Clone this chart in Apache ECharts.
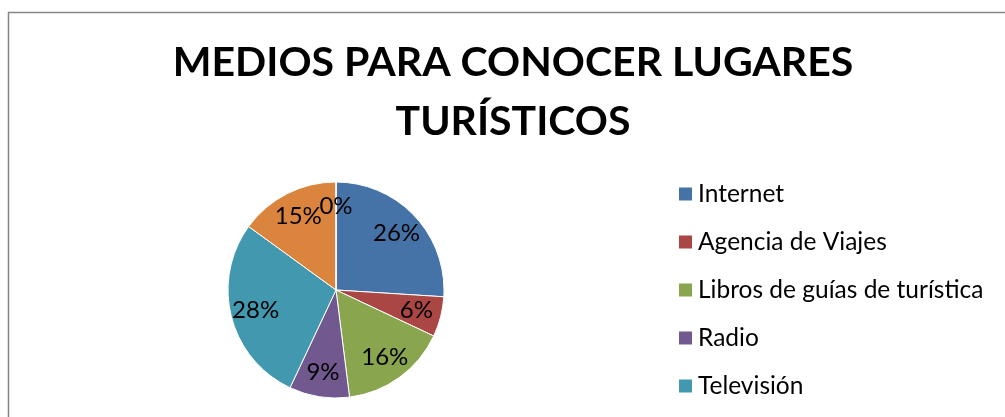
<!DOCTYPE html>
<html>
<head>
<meta charset="utf-8">
<script src="https://cdn.jsdelivr.net/npm/echarts@6/dist/echarts.min.js"></script>
<style>
  html, body { margin: 0; padding: 0; background: #fff; }
  #chart { width: 1005px; height: 417px; }
</style>
</head>
<body>
<div id="chart"></div>
<script>
const titleLines = ['MEDIOS PARA CONOCER LUGARES', 'TURÍSTICOS']
const categories = ['Internet', 'Agencia de Viajes', 'Libros de guías de turística', 'Radio', 'Televisión', 'Periódicos', 'Otros']
const percents = [26, 6, 16, 9, 28, 15, 0]
const colors = ['#4572A7', '#AA4643', '#89A54E', '#71588F', '#4198AF', '#DB843D', '#93A9CF']
// only the first five legend entries fit inside the cropped frame
const legendNames = categories.slice(0, 5)

const FONT = 'Lato, "Open Sans", sans-serif'
const PIE_CENTER = [336, 290]
const PIE_R = 108
const LABEL_R0 = 52
const pieData = categories.map((name, i) => ({ name, value: percents[i] }))
const pctText = p => Math.round(p) + '%'

const frame = {
  id: 'frame',
  type: 'rect',
  shape: { x: 8.5, y: 12.5, width: 1100, height: 500 },
  style: { fill: 'none', stroke: '#868686', lineWidth: 1.5 },
  silent: true
}

const chart = echarts.init(document.getElementById('chart'))
chart.setOption({
  animation: false,
  color: colors,
  title: {
    text: titleLines.join('\n'),
    left: 513,
    textAlign: 'center',
    top: 33,
    padding: 0,
    textStyle: { fontFamily: FONT, fontSize: 41, fontWeight: 'bold', color: '#000', lineHeight: 59 }
  },
  legend: {
    orient: 'vertical',
    left: 677,
    top: 179,
    padding: 0,
    icon: 'rect',
    itemWidth: 15,
    itemHeight: 15,
    itemGap: 18,
    itemTextGap: 6,
    data: legendNames,
    selectedMode: false,
    textStyle: { fontFamily: FONT, fontSize: 24.5, color: '#000', lineHeight: 30 }
  },
  graphic: [frame],
  series: [
    {
      type: 'pie',
      center: PIE_CENTER,
      radius: [0, PIE_R],
      startAngle: 90,
      clockwise: true,
      data: pieData,
      label: { show: false },
      labelLine: { show: false },
      itemStyle: { borderColor: '#fff', borderWidth: 1 },
      emphasis: { disabled: true }
    },
    {
      // label ring so the percentages sit out toward the rim, like the original
      type: 'pie',
      center: PIE_CENTER,
      radius: [LABEL_R0, PIE_R],
      startAngle: 90,
      clockwise: true,
      silent: true,
      data: pieData,
      itemStyle: { color: 'rgba(0,0,0,0)' },
      label: {
        show: true,
        position: 'inside',
        formatter: p => pctText(p.percent),
        fontFamily: FONT,
        fontSize: 24,
        color: '#000'
      },
      labelLine: { show: false },
      emphasis: { disabled: true }
    }
  ]
})

// echarts drops labels of zero-size slices; put them back where the slice sits
const total = percents.reduce((s, v) => s + v, 0)
const zeroLabels = []
let before = 0
percents.forEach((v, i) => {
  if (v === 0) {
    let a = -Math.PI / 2 + (before / total) * Math.PI * 2
    try {
      const lay = chart.getModel().getSeriesByIndex(1).getData().getItemLayout(i)
      if (lay && isFinite(lay.startAngle)) a = lay.startAngle
    } catch (e) {}
    const r = (LABEL_R0 + PIE_R) / 2 + 4
    zeroLabels.push({
      id: 'zero-' + i,
      type: 'text',
      silent: true,
      z: 10,
      x: PIE_CENTER[0] + r * Math.cos(a),
      y: PIE_CENTER[1] + r * Math.sin(a),
      style: {
        text: pctText(0),
        font: '24px ' + FONT,
        fill: '#000',
        align: 'center',
        verticalAlign: 'middle',
        textAlign: 'center',
        textVerticalAlign: 'middle'
      }
    })
  }
  before += v
})
chart.setOption({ graphic: [frame].concat(zeroLabels) })
</script>
</body>
</html>
